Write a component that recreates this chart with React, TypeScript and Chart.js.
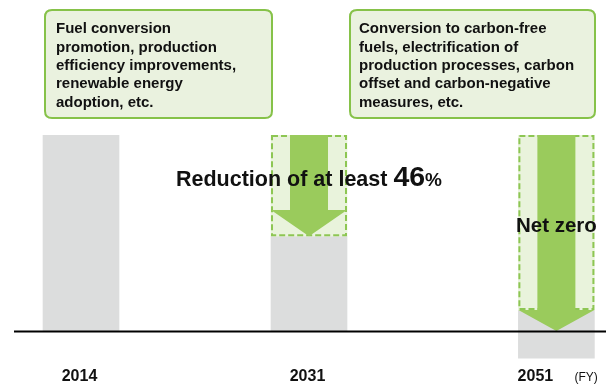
import { useEffect, useRef } from 'react';
import { Chart, registerables } from 'chart.js';

Chart.register(...registerables);

// ---- data ----
const fiscalYears = ['2014', '2031', '2051'];
const yearSlots = [0, 1, 2.085];
const emissionLow = [0, 0, -13.8];
const emissionHigh = [100, 48.4, 10.7];
const reductionTop = [null, 100, 100];
const reductionBottom = [null, 48.4, 10.7];
const arrowHeadStart = [null, 61.7, 10.7];
const arrowTip = [null, 48.4, 0];
const leftBoxLines = [
  'Fuel conversion',
  'promotion, production',
  'efficiency improvements,',
  'renewable energy',
  'adoption, etc.',
];
const rightBoxLines = [
  'Conversion to carbon-free',
  'fuels, electrification of',
  'production processes, carbon',
  'offset and carbon-negative',
  'measures, etc.',
];
const reductionText = ['Reduction of at least ', '46', '%'];
const netZeroText = 'Net zero';
const unitText = '(FY)';

// ---- styles ----
const FONT = '"Liberation Sans", Arial, Helvetica, sans-serif';
const GRAY = '#DCDDDD';
const LIGHT_GREEN = '#E9F3DC';
const ARROW_GREEN = '#9ACB5C';
const DASH_GREEN = '#8DC653';
const BOX_BORDER = '#86C249';
const BOX_FILL = '#EAF2DF';
const TEXT = '#111111';
const BAR_W = 76;

function roundRect(ctx: CanvasRenderingContext2D, x: number, y: number, w: number, h: number, r: number) {
  ctx.beginPath();
  ctx.moveTo(x + r, y);
  ctx.lineTo(x + w - r, y);
  ctx.quadraticCurveTo(x + w, y, x + w, y + r);
  ctx.lineTo(x + w, y + h - r);
  ctx.quadraticCurveTo(x + w, y + h, x + w - r, y + h);
  ctx.lineTo(x + r, y + h);
  ctx.quadraticCurveTo(x, y + h, x, y + h - r);
  ctx.lineTo(x, y + r);
  ctx.quadraticCurveTo(x, y, x + r, y);
  ctx.closePath();
}

const overlay = {
  id: 'overlay',
  afterDatasetsDraw(chart: any) {
    const { ctx, scales, chartArea } = chart;
    const xs = scales.x;
    const ys = scales.y;
    ctx.save();

    // dashed borders around reduction regions
    const meta = chart.getDatasetMeta(1);
    meta.data.forEach((el: any) => {
      const p = el.getProps(['x', 'y', 'base', 'width'], true);
      const top = Math.min(p.y, p.base);
      const h = Math.abs(p.base - p.y);
      ctx.setLineDash([6, 3]);
      ctx.lineWidth = 2;
      ctx.strokeStyle = DASH_GREEN;
      ctx.strokeRect(p.x - p.width / 2 + 1, top + 1, p.width - 2, h - 2);
    });
    ctx.setLineDash([]);

    // arrows
    fiscalYears.forEach((_, i) => {
      if (arrowTip[i] == null) return;
      const cx = xs.getPixelForValue(yearSlots[i]);
      const top = ys.getPixelForValue(reductionTop[i] as number);
      const hs = ys.getPixelForValue(arrowHeadStart[i] as number);
      const tip = ys.getPixelForValue(arrowTip[i] as number);
      const half = BAR_W / 2;
      ctx.fillStyle = ARROW_GREEN;
      ctx.beginPath();
      ctx.moveTo(cx - half / 2, top);
      ctx.lineTo(cx + half / 2, top);
      ctx.lineTo(cx + half / 2, hs);
      ctx.lineTo(cx + half, hs);
      ctx.lineTo(cx, tip);
      ctx.lineTo(cx - half, hs);
      ctx.lineTo(cx - half / 2, hs);
      ctx.closePath();
      ctx.fill();
    });

    // baseline
    const y0 = ys.getPixelForValue(0) + 0.5;
    ctx.strokeStyle = '#000';
    ctx.lineWidth = 2;
    ctx.beginPath();
    ctx.moveTo(chartArea.left, y0);
    ctx.lineTo(chartArea.right, y0);
    ctx.stroke();

    // reduction label
    const c1 = xs.getPixelForValue(yearSlots[1]);
    const fonts = [`bold 21.5px ${FONT}`, `bold 28.5px ${FONT}`, `bold 19px ${FONT}`];
    let total = 0;
    const widths = reductionText.map((t, k) => {
      ctx.font = fonts[k];
      const w = ctx.measureText(t).width;
      total += w;
      return w;
    });
    let tx = c1 - total / 2;
    const ty = ys.getPixelForValue(73.9);
    ctx.fillStyle = TEXT;
    ctx.textBaseline = 'alphabetic';
    ctx.textAlign = 'left';
    reductionText.forEach((t, k) => {
      ctx.font = fonts[k];
      ctx.fillText(t, tx, ty);
      tx += widths[k];
    });

    // net zero label
    const c2 = xs.getPixelForValue(yearSlots[2]);
    ctx.font = `bold 20.5px ${FONT}`;
    ctx.textAlign = 'center';
    ctx.fillText(netZeroText, c2, ys.getPixelForValue(50.5));

    // x labels
    ctx.font = `bold 16px ${FONT}`;
    fiscalYears.forEach((yr, i) => {
      const cx = xs.getPixelForValue(yearSlots[i]);
      const shift = i === 2 ? -21 : -1.5;
      ctx.textAlign = 'center';
      ctx.fillText(yr, cx + shift, 381);
    });
    ctx.font = `12px ${FONT}`;
    ctx.textAlign = 'left';
    ctx.fillText(unitText, c2 + 18, 381);

    // text boxes
    const boxes = [
      { x: 45, y: 10, w: 227, h: 108, tx: 56, lines: leftBoxLines },
      { x: 350, y: 10, w: 245, h: 108, tx: 359, lines: rightBoxLines },
    ];
    boxes.forEach((b) => {
      roundRect(ctx, b.x, b.y, b.w, b.h, 7);
      ctx.fillStyle = BOX_FILL;
      ctx.fill();
      ctx.lineWidth = 2;
      ctx.strokeStyle = BOX_BORDER;
      ctx.stroke();
      ctx.fillStyle = TEXT;
      ctx.font = `bold 15px ${FONT}`;
      ctx.textAlign = 'left';
      b.lines.forEach((ln, k) => {
        ctx.fillText(ln, b.tx, 33.3 + k * 18.3);
      });
    });

    ctx.restore();
  },
};

export default function App() {
  const ref = useRef<HTMLCanvasElement | null>(null);
  useEffect(() => {
    if (!ref.current) return;
    const chart = new Chart(ref.current, {
      type: 'bar',
      data: {
        datasets: [
          {
            label: 'Emissions',
            data: fiscalYears.map((_, i) => ({ x: yearSlots[i], y: [emissionLow[i], emissionHigh[i]] })),
            backgroundColor: GRAY,
            borderWidth: 0,
            barThickness: BAR_W,
            grouped: false,
            order: 2,
          } as any,
          {
            label: 'Reduction',
            data: fiscalYears
              .map((_, i) => (reductionTop[i] == null ? null : { x: yearSlots[i], y: [reductionBottom[i], reductionTop[i]] }))
              .filter((d) => d !== null),
            backgroundColor: LIGHT_GREEN,
            borderWidth: 0,
            barThickness: BAR_W,
            grouped: false,
            order: 1,
          } as any,
        ],
      },
      options: {
        animation: false,
        responsive: false,
        devicePixelRatio: 1,
        layout: { padding: { left: 14, right: 0, top: 135, bottom: 0 } },
        scales: {
          x: { type: 'linear', display: false, offset: false, bounds: 'ticks', min: -0.2939, max: 2.3026 },
          y: { type: 'linear', display: false, min: -28, max: 100 },
        },
        plugins: { legend: { display: false }, tooltip: { enabled: false } },
      },
      plugins: [overlay],
    } as any);
    return () => chart.destroy();
  }, []);
  return (
    <div style={{ position: 'absolute', left: 0, top: 0, width: 606, height: 386, background: '#fff' }}>
      <canvas ref={ref} width={606} height={386} />
    </div>
  );
}
